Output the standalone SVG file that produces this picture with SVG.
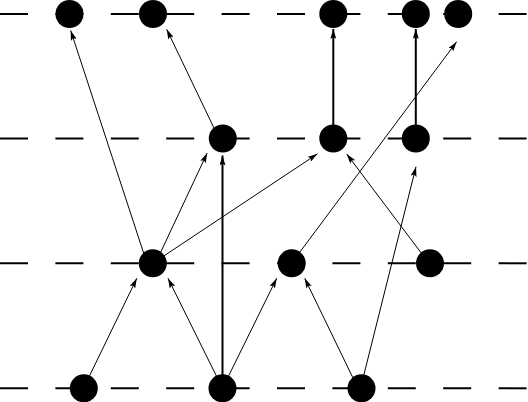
<svg xmlns="http://www.w3.org/2000/svg" width="528" height="402" viewBox="0 0 528 402">
<style>
.row{stroke:#000;stroke-width:2;stroke-dasharray:28 27.4;fill:none}
.e{stroke:#000;stroke-width:1;fill:none;marker-end:url(#ah)}
.t{stroke:#000;stroke-width:2;fill:none;marker-end:url(#ah)}
.n{fill:#000}
</style>
<defs>
<marker id="ah" viewBox="0 0 10 6" refX="10" refY="3" markerWidth="10" markerHeight="6" markerUnits="userSpaceOnUse" orient="auto">
<path d="M0,0 L10,3 L0,6 L2,3 z" fill="#000"/>
</marker>
</defs>
<g id="rows">
<line class="row" x1="0" y1="14" x2="528" y2="14"/>
<line class="row" x1="0" y1="138.5" x2="528" y2="138.5"/>
<line class="row" x1="0" y1="263.3" x2="528" y2="263.3"/>
<line class="row" x1="0" y1="388.3" x2="528" y2="388.3"/>
</g>
<g id="connectors">
<line class="e" x1="147" y1="263.3" x2="70.7" y2="30.5"/>
<line class="e" x1="219" y1="138.5" x2="166.7" y2="29.3"/>
<line class="e" x1="155.5" y1="263.3" x2="207.2" y2="153"/>
<line class="t" x1="222.5" y1="388.3" x2="222.5" y2="155.5"/>
<line class="e" x1="152.8" y1="263.3" x2="317.5" y2="153.8"/>
<line class="t" x1="333.3" y1="138.5" x2="333.3" y2="29"/>
<line class="t" x1="415.8" y1="138.5" x2="415.8" y2="29"/>
<line class="e" x1="291.5" y1="263.3" x2="456.7" y2="41.7"/>
<line class="e" x1="83.5" y1="388.3" x2="136.8" y2="278.3"/>
<line class="e" x1="222.5" y1="388.3" x2="168" y2="278.3"/>
<line class="e" x1="222.5" y1="388.3" x2="276.7" y2="278.3"/>
<line class="e" x1="358" y1="388.3" x2="304.7" y2="278.3"/>
<line class="e" x1="360.5" y1="388.3" x2="416" y2="166.7"/>
<line class="e" x1="429" y1="263.3" x2="346.7" y2="154"/>
</g>
<g id="n_a1"><circle class="n" cx="69.5" cy="14" r="14"/></g>
<g id="n_a2"><circle class="n" cx="153" cy="14" r="14"/></g>
<g id="n_a3"><circle class="n" cx="333.3" cy="14" r="14"/></g>
<g id="n_a4"><circle class="n" cx="415.8" cy="14" r="14"/></g>
<g id="n_a5"><circle class="n" cx="458.2" cy="14" r="14"/></g>
<g id="n_b1"><circle class="n" cx="222.8" cy="138.5" r="14"/></g>
<g id="n_b2"><circle class="n" cx="333.3" cy="138.5" r="14"/></g>
<g id="n_b3"><circle class="n" cx="415.8" cy="138.5" r="14"/></g>
<g id="n_c1"><circle class="n" cx="152.8" cy="263.3" r="14"/></g>
<g id="n_c2"><circle class="n" cx="291.7" cy="263.3" r="14"/></g>
<g id="n_c3"><circle class="n" cx="430" cy="263.3" r="14"/></g>
<g id="n_d1"><circle class="n" cx="83.8" cy="388.3" r="14"/></g>
<g id="n_d2"><circle class="n" cx="222.5" cy="388.3" r="14"/></g>
<g id="n_d3"><circle class="n" cx="361.5" cy="388.3" r="14"/></g>
</svg>
